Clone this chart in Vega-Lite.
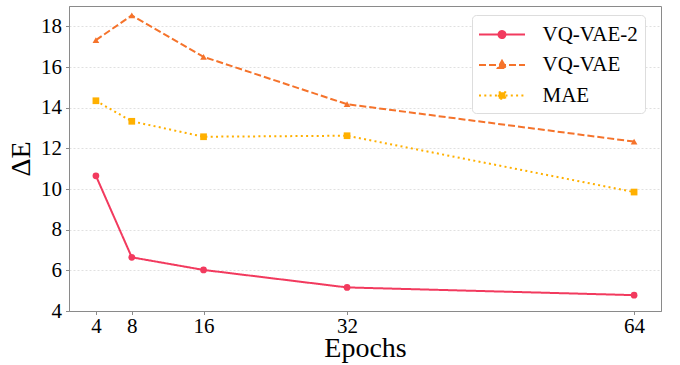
{
  "$schema": "https://vega.github.io/schema/vega-lite/v6.json",
  "autosize": "none",
  "width": 592,
  "height": 305,
  "padding": {"left": 69, "top": 6, "right": 19, "bottom": 54},
  "background": "white",
  "config": {
    "font": "Liberation Serif",
    "view": {"stroke": "#8a8a8a", "strokeWidth": 1},
    "axis": {
      "labelFont": "Liberation Serif",
      "titleFont": "Liberation Serif",
      "labelFontSize": 21,
      "titleFontSize": 28,
      "titleFontWeight": "normal",
      "labelColor": "black",
      "titleColor": "black",
      "domainColor": "#8a8a8a",
      "tickColor": "#8a8a8a",
      "tickSize": 3.5,
      "labelPadding": 4
    },
    "legend": {
      "labelFont": "Liberation Serif",
      "labelFontSize": 21,
      "labelColor": "black",
      "symbolSize": 529,
      "symbolStrokeWidth": 2,
      "symbolOffset": 10.5,
      "labelOffset": 28,
      "rowPadding": 7.5,
      "padding": 7,
      "fillColor": "white",
      "strokeColor": "#dddddd",
      "cornerRadius": 4,
      "symbolOpacity": 1
    }
  },
  "data": {
    "values": [
      {"epochs": 4, "model": "VQ-VAE-2", "dE": 10.65},
      {"epochs": 8, "model": "VQ-VAE-2", "dE": 6.64},
      {"epochs": 16, "model": "VQ-VAE-2", "dE": 6.02},
      {"epochs": 32, "model": "VQ-VAE-2", "dE": 5.16},
      {"epochs": 64, "model": "VQ-VAE-2", "dE": 4.78},
      {"epochs": 4, "model": "VQ-VAE", "dE": 17.32},
      {"epochs": 8, "model": "VQ-VAE", "dE": 18.54},
      {"epochs": 16, "model": "VQ-VAE", "dE": 16.5},
      {"epochs": 32, "model": "VQ-VAE", "dE": 14.17},
      {"epochs": 64, "model": "VQ-VAE", "dE": 12.33},
      {"epochs": 4, "model": "MAE", "dE": 14.34},
      {"epochs": 8, "model": "MAE", "dE": 13.33},
      {"epochs": 16, "model": "MAE", "dE": 12.57},
      {"epochs": 32, "model": "MAE", "dE": 12.62},
      {"epochs": 64, "model": "MAE", "dE": 9.85}
    ]
  },
  "encoding": {
    "x": {
      "field": "epochs",
      "type": "quantitative",
      "scale": {"domain": [1, 67], "nice": false, "zero": false},
      "axis": {"values": [4, 8, 16, 32, 64], "grid": false, "title": "Epochs", "labelPadding": 1, "titlePadding": -2}
    },
    "y": {
      "field": "dE",
      "type": "quantitative",
      "scale": {"domain": [4, 19], "nice": false, "zero": false},
      "axis": {
        "values": [4, 6, 8, 10, 12, 14, 16, 18],
        "grid": true,
        "gridColor": "#d8d8d8",
        "gridDash": [2, 2],
        "gridWidth": 0.8,
        "title": "ΔE",
        "titlePadding": 5
      }
    }
  },
  "resolve": {
    "scale": {"color": "independent", "shape": "independent", "strokeDash": "independent", "stroke": "independent"},
    "legend": {"color": "independent", "shape": "independent", "strokeDash": "independent", "stroke": "independent"}
  },
  "layer": [
    {
      "mark": {"type": "line", "strokeWidth": 2},
      "encoding": {
        "color": {
          "field": "model",
          "type": "nominal",
          "scale": {"domain": ["VQ-VAE-2", "VQ-VAE", "MAE"], "range": ["#F23A5E", "#F5732B", "#FFB000"]},
          "legend": null
        },
        "strokeDash": {
          "field": "model",
          "type": "nominal",
          "scale": {"domain": ["VQ-VAE-2", "VQ-VAE", "MAE"], "range": [[1, 0], [7, 3], [2, 3.3]]},
          "legend": null
        }
      }
    },
    {
      "mark": {"type": "point", "filled": true, "opacity": 1, "size": 45},
      "encoding": {
        "color": {
          "field": "model",
          "type": "nominal",
          "scale": {"domain": ["VQ-VAE-2", "VQ-VAE", "MAE"], "range": ["#F23A5E", "#F5732B", "#FFB000"]},
          "legend": null
        },
        "shape": {
          "field": "model",
          "type": "nominal",
          "scale": {"domain": ["VQ-VAE-2", "VQ-VAE", "MAE"], "range": ["circle", "triangle-up", "square"]},
          "legend": null
        }
      }
    },
    {
      "mark": {"type": "point", "filled": true, "opacity": 1, "strokeWidth": 2},
      "encoding": {
        "size": {"value": 0},
        "color": {
          "field": "model",
          "type": "nominal",
          "scale": {"domain": ["VQ-VAE-2", "VQ-VAE", "MAE"], "range": ["#F23A5E", "#F5732B", "#FFB000"]},
          "legend": {"title": null, "orient": "none", "legendX": 403, "legendY": 9}
        },
        "stroke": {
          "field": "model",
          "type": "nominal",
          "scale": {"domain": ["VQ-VAE-2", "VQ-VAE", "MAE"], "range": ["#F23A5E", "#F5732B", "#FFB000"]},
          "legend": {"title": null, "orient": "none", "legendX": 403, "legendY": 9}
        },
        "strokeDash": {
          "field": "model",
          "type": "nominal",
          "scale": {"domain": ["VQ-VAE-2", "VQ-VAE", "MAE"], "range": [[1, 0], [7, 3], [2, 3.3]]},
          "legend": {"title": null, "orient": "none", "legendX": 403, "legendY": 9}
        },
        "shape": {
          "field": "model",
          "type": "nominal",
          "scale": {
            "domain": ["VQ-VAE-2", "VQ-VAE", "MAE"],
            "range": [
              "M-2,0H2M0.304,0A0.304,0.304,0,1,1,-0.304,0A0.304,0.304,0,1,1,0.304,0Z",
              "M-2,0H2M0,-0.36L0.36,0.26L-0.36,0.26Z",
              "M-2,0H2M-0.28,-0.28H0.28V0.28H-0.28Z"
            ]
          },
          "legend": {"title": null, "orient": "none", "legendX": 403, "legendY": 9}
        }
      }
    }
  ]
}
